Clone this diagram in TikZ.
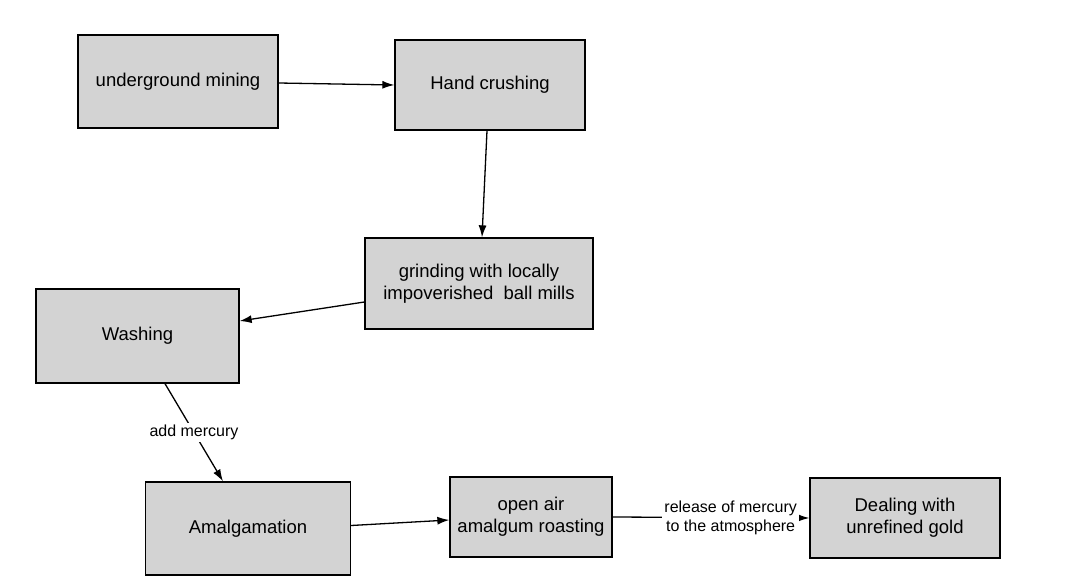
\documentclass[tikz,border=0pt]{standalone}
\usepackage{fontspec}
\setmainfont{Liberation Sans}
\usetikzlibrary{arrows.meta}
\definecolor{boxgray}{HTML}{D3D3D3}
\begin{document}
\begin{tikzpicture}[x=1pt,y=-1pt,
  box/.style={draw=black, line width=1.3pt, fill=boxgray, inner sep=0pt, align=center,
    font=\fontsize{18.5}{22}\selectfont},
  conn/.style={line width=1.3pt, -{Latex[length=12pt,width=8pt]}},
  lbl/.style={fill=white, inner sep=2pt, align=center, font=\fontsize{16}{19}\selectfont}]
\fill[white] (0,0) rectangle (1069,586);
\useasboundingbox (0,0) rectangle (1069,586);

\node[box, minimum width=200pt, minimum height=93pt] (um) at (178,81.5) {underground mining};
\node[box, minimum width=190pt, minimum height=90pt] (hc) at (490,85) {Hand crushing};
\node[box, minimum width=228pt, minimum height=91pt] (gr) at (479,283.5) {grinding with locally\\impoverished\ \ ball mills};
\node[box, minimum width=203pt, minimum height=94pt] (wa) at (137.5,336) {Washing};
\node[box, minimum width=205pt, minimum height=93pt] (am) at (248,528.5) {Amalgamation};
\node[box, minimum width=162pt, minimum height=80pt] (oa) at (531,517) {open air\\amalgum roasting};
\node[box, minimum width=190pt, minimum height=80pt] (dl) at (905,518) {Dealing with\\unrefined gold};

\draw[conn] ([yshift=-1.5pt]um.east) -- (hc.west);
\draw[conn] ([xshift=-3pt]hc.south) -- ([xshift=3pt]gr.north);
\draw[conn] ([yshift=-18.5pt]gr.west) -- ([yshift=15pt]wa.east);
\draw[conn] ([xshift=27.5pt]wa.south) -- node[lbl] (l1) {add mercury} ([xshift=-25pt]am.north);
\draw[conn] ([yshift=3pt]am.east) -- ([yshift=-3pt]oa.west);
\draw[conn] (oa.east) -- node[lbl, pos=0.6] (l2) {release of mercury\\to the atmosphere} (dl.west);
\end{tikzpicture}
\end{document}
